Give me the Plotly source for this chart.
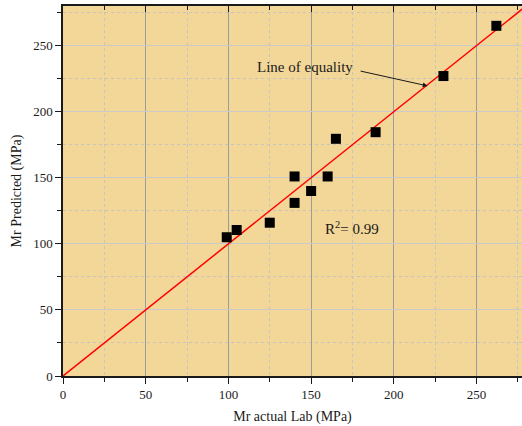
import plotly.graph_objects as go

actual_lab = [99, 105, 125, 140, 140, 150, 160, 165, 189, 230, 262]
predicted = [105, 110.5, 116, 151, 131, 140, 151, 179.5, 184.5, 227, 265]
equality_x = [0, 280]
equality_y = [0, 280]

FONT = "Liberation Serif"
INK = "#1a1a1a"

fig = go.Figure()
fig.add_trace(go.Scatter(x=equality_x, y=equality_y, mode="lines",
                         line=dict(color="#FF0000", width=1.5), showlegend=False,
                         hoverinfo="skip"))
fig.add_trace(go.Scatter(x=actual_lab, y=predicted, mode="markers",
                         marker=dict(symbol="square", size=10, color="black"),
                         showlegend=False))
# helper trace for top axis
fig.add_trace(go.Scatter(x=[0], y=[0], xaxis="x2", mode="markers",
                         marker=dict(opacity=0), showlegend=False, hoverinfo="skip"))

fig.update_layout(
    width=522, height=426,
    margin=dict(l=63, r=0, t=6, b=50),
    paper_bgcolor="white",
    plot_bgcolor="#F2D798",
    font=dict(family=FONT, size=13, color=INK),
    xaxis=dict(
        range=[0, 277.5], tick0=0, dtick=50, ticks="outside", ticklen=6, tickwidth=1.2,
        tickcolor=INK, showline=True, linecolor=INK, linewidth=1.5,
        showgrid=True, gridcolor="#9C9C9C", gridwidth=1.2,
        zeroline=False,
        minor=dict(dtick=25, ticks="outside", ticklen=4, tickcolor=INK,
                   showgrid=True, gridcolor="#C8C4BC", griddash="dot", gridwidth=1),
        title=dict(text="Mr actual Lab (MPa)", font=dict(family=FONT, size=14, color=INK), standoff=10),
        tickfont=dict(family=FONT, size=13, color=INK),
    ),
    xaxis2=dict(
        overlaying="x", side="top", range=[0, 277.5], tick0=0, dtick=50,
        ticks="inside", ticklen=6, tickwidth=1.2, tickcolor=INK,
        showticklabels=False, showline=True, linecolor=INK, linewidth=1.5,
        showgrid=False, zeroline=False,
        minor=dict(dtick=25, ticks="inside", ticklen=4, tickcolor=INK, showgrid=False),
    ),
    yaxis=dict(
        range=[0, 280], tick0=0, dtick=50, ticks="outside", ticklen=6, tickwidth=1.2,
        tickcolor=INK, showline=True, linecolor=INK, linewidth=1.5,
        showgrid=True, gridcolor="#CACACA", gridwidth=1.2,
        zeroline=False,
        minor=dict(dtick=25, ticks="outside", ticklen=4, tickcolor=INK,
                   showgrid=True, gridcolor="#C8C4BC", griddash="dot", gridwidth=1),
        title=dict(text="Mr Predicted (MPa)", font=dict(family=FONT, size=14, color=INK), standoff=8),
        tickfont=dict(family=FONT, size=13, color=INK),
    ),
    annotations=[
        dict(x=220.5, y=219.5, ax=179, ay=231, xref="x", yref="y", axref="x", ayref="y",
             showarrow=True, arrowhead=2, arrowsize=1, arrowwidth=1, arrowcolor=INK,
             text=""),
        dict(x=146.5, y=233.5, xref="x", yref="y", text="Line of equality", showarrow=False,
             font=dict(family=FONT, size=15, color=INK)),
        dict(x=174.5, y=112, xref="x", yref="y", text="R<sup>2</sup>= 0.99", showarrow=False,
             font=dict(family=FONT, size=15, color=INK)),
    ],
)

fig.write_html("out.html", config={"displayModeBar": False},
               post_script="document.body.style.margin='0';document.body.style.padding='0';")
